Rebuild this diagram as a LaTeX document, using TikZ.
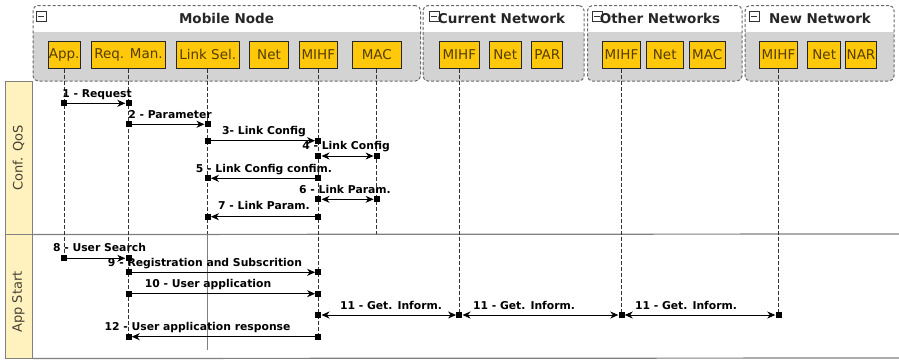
\documentclass[tikz,border=0pt]{standalone}
\usepackage{fontspec}
\setmainfont{DejaVu Sans}
\usetikzlibrary{arrows.meta}
\definecolor{boxy}{RGB}{255,200,10}
\definecolor{boxtxt}{RGB}{85,62,0}
\definecolor{lanehd}{RGB}{255,242,190}
\definecolor{lanetxt}{RGB}{70,65,50}
\definecolor{grpbody}{RGB}{211,211,211}
\definecolor{grpline}{RGB}{105,105,105}
\definecolor{laneline}{RGB}{128,128,128}
\begin{document}
\begin{tikzpicture}[x=1pt,y=-1pt,
  comp/.style={draw=black!85, fill=boxy, line width=0.8pt, minimum height=27.5pt, inner sep=0pt, text=boxtxt, font=\fontsize{13.5}{15}\selectfont},
  grpttl/.style={anchor=base, inner sep=0pt, font=\bfseries\fontsize{13.5}{15}\selectfont, text=black!85},
  icon/.style={draw=black!80, fill=white, minimum size=10pt, inner sep=0pt, line width=0.6pt,
    path picture={\draw[line width=0.7pt] ([xshift=2pt]path picture bounding box.west) -- ([xshift=-2pt]path picture bounding box.east);}},
  grpborder/.style={draw=grpline, dashed, dash pattern=on 3pt off 2pt, line width=1pt, rounded corners=5pt},
  life/.style={draw=black!80, line width=0.8pt, dash pattern=on 4pt off 2pt},
  mk/.style={fill=black, minimum size=6pt, inner sep=0pt},
  msg/.style={draw=black, line width=0.9pt, -{Stealth[length=8pt,width=7pt,inset=2.5pt]}},
  dmsg/.style={draw=black, line width=0.9pt, {Stealth[length=8pt,width=7pt,inset=2.5pt]}-{Stealth[length=8pt,width=7pt,inset=2.5pt]}},
  lbl/.style={anchor=base, inner sep=0pt, font=\bfseries\fontsize{10.8}{12}\selectfont},
  lanehead/.style={draw=laneline, fill=lanehd, line width=1pt},
  lanettl/.style={rotate=90, inner sep=0pt, text=lanetxt, font=\fontsize{13}{15}\selectfont},
  lanesep/.style={draw=laneline, line width=1.2pt}]

\useasboundingbox (0,0) rectangle (899,360);
\fill[white] (0,0) rectangle (899,360);

% ---------- lanes ----------
\node[lanehead, minimum width=27pt, minimum height=152.5pt, inner sep=0pt] (laneA) at (18.5,157.75) {};
\node[lanehead, minimum width=27pt, minimum height=124pt, inner sep=0pt] (laneB) at (18.5,296) {};
\node[lanettl] (laneAt) at (18.5,158) {Conf. QoS};
\node[lanettl] (laneBt) at (18.5,302) {App Start};
\coordinate (sepR) at (899,234);
\coordinate (botR) at (899,358);
\draw[lanesep] (laneA.south east) -- (sepR);
\draw[lanesep] (laneB.south east) -- (botR);

% ---------- groups ----------
\foreach \xa/\xb in {33/420.5, 423/584, 587.5/742, 745/894}{
  \fill[white, rounded corners=5pt] (\xa,5.5) rectangle (\xb,81);
  \fill[grpbody, rounded corners=5pt] (\xa,32) rectangle (\xb,81);
  \fill[grpbody] (\xa,32) rectangle (\xb,40);
}
\node[grpborder, minimum width=387.5pt, minimum height=75.5pt, inner sep=0pt] (gMN) at (226.75,43.25) {};
\node[grpborder, minimum width=161pt, minimum height=75.5pt, inner sep=0pt] (gCN) at (503.5,43.25) {};
\node[grpborder, minimum width=154.5pt, minimum height=75.5pt, inner sep=0pt] (gON) at (664.75,43.25) {};
\node[grpborder, minimum width=149pt, minimum height=75.5pt, inner sep=0pt] (gNN) at (819.5,43.25) {};

\node[icon] (iMN) at (41.3,16.7) {};
\node[icon] (iCN) at (433.8,16.7) {};
\node[icon] (iON) at (597.2,16.7) {};
\node[icon] (iNN) at (754.2,16.7) {};

\node[grpttl] (tMN) at (226.5,23.3) {Mobile Node};
\node[grpttl] (tCN) at (501.5,23.3) {Current Network};
\node[grpttl] (tON) at (660,23.3) {Other Networks};
\node[grpttl] (tNN) at (820,23.3) {New Network};

% ---------- components ----------
\node[comp, minimum width=31.7pt] (app) at (64.2,54.8) {App.};
\node[comp, minimum width=74.4pt] (req) at (128.5,54.8) {Req. Man.};
\node[comp, minimum width=63.3pt] (lsel) at (207.7,54.8) {Link Sel.};
\node[comp, minimum width=39.4pt] (netM) at (269,54.8) {Net};
\node[comp, minimum width=38.7pt] (mihfM) at (318.3,54.8) {MIHF};
\node[comp, minimum width=49pt] (macM) at (376.8,54.8) {MAC};

\node[comp, minimum width=40pt] (mihfC) at (459.3,54.8) {MIHF};
\node[comp, minimum width=31.7pt] (netC) at (505.2,54.8) {Net};
\node[comp, minimum width=31pt] (par) at (547.2,54.8) {PAR};

\node[comp, minimum width=38.4pt] (mihfO) at (621.5,54.8) {MIHF};
\node[comp, minimum width=37.3pt] (netO) at (664.7,54.8) {Net};
\node[comp, minimum width=35.7pt] (macO) at (707.2,54.8) {MAC};

\node[comp, minimum width=38.4pt] (mihfN) at (778.5,54.8) {MIHF};
\node[comp, minimum width=33pt] (netN) at (824.2,54.8) {Net};
\node[comp, minimum width=31.4pt] (nar) at (861,54.8) {NAR};

% ---------- lifelines ----------
\coordinate (appE) at (64.2,258.3);
\coordinate (reqE) at (128.5,337);
\coordinate (lselM) at (207.7,234);
\coordinate (lselE) at (207.7,350);
\coordinate (mihfME) at (318.3,337);
\coordinate (macME) at (376.8,234);
\coordinate (mihfCE) at (459.3,315);
\coordinate (mihfOE) at (621.5,315);
\coordinate (mihfNE) at (778.5,315);

\draw[life] (app.south) -- (appE);
\draw[life] (req.south) -- (reqE);
\draw[life] (lsel.south) -- (lselM);
\draw[draw=laneline, line width=1pt] (lselM) -- (lselE);
\draw[life] (mihfM.south) -- (mihfME);
\draw[life] (macM.south) -- (macME);
\draw[life] (mihfC.south) -- (mihfCE);
\draw[life] (mihfO.south) -- (mihfOE);
\draw[life] (mihfN.south) -- (mihfNE);

% ---------- markers ----------
\node[mk] (m1a) at (64.2,103.3) {};   \node[mk] (m1b) at (128.5,103.3) {};
\node[mk] (m2a) at (128.5,124.3) {};  \node[mk] (m2b) at (207.7,124.3) {};
\node[mk] (m3a) at (207.7,140.7) {};  \node[mk] (m3b) at (318.3,140.7) {};
\node[mk] (m4a) at (318.3,156) {};    \node[mk] (m4b) at (376.8,156) {};
\node[mk] (m5a) at (318.3,178.3) {};  \node[mk] (m5b) at (207.7,178.3) {};
\node[mk] (m6a) at (318.3,199.3) {};  \node[mk] (m6b) at (376.8,199.3) {};
\node[mk] (m7a) at (318.3,216.7) {};  \node[mk] (m7b) at (207.7,216.7) {};
\node[mk] (m8a) at (64.2,258.3) {};   \node[mk] (m8b) at (128.5,258.3) {};
\node[mk] (m9a) at (128.5,272.3) {};  \node[mk] (m9b) at (318.3,272.3) {};
\node[mk] (m10a) at (128.5,293.7) {}; \node[mk] (m10b) at (318.3,293.7) {};
\node[mk] (m11a) at (318.3,315) {};   \node[mk] (m11b) at (459.3,315) {};
\node[mk] (m11c) at (621.5,315) {};   \node[mk] (m11d) at (778.5,315) {};
\node[mk] (m12a) at (318.3,336.7) {}; \node[mk] (m12b) at (128.5,336.7) {};

% ---------- messages ----------
\draw[msg] (m1a) -- (m1b);
\draw[msg] (m2a) -- (m2b);
\draw[msg] (m3a) -- (m3b);
\draw[dmsg] (m4a) -- (m4b);
\draw[msg] (m5a) -- (m5b);
\draw[dmsg] (m6a) -- (m6b);
\draw[msg] (m7a) -- (m7b);
\draw[msg] (m8a) -- (m8b);
\draw[msg] (m9a) -- (m9b);
\draw[msg] (m10a) -- (m10b);
\draw[dmsg] (m11a) -- (m11b);
\draw[dmsg] (m11b) -- (m11c);
\draw[dmsg] (m11c) -- (m11d);
\draw[msg] (m12a) -- (m12b);

% ---------- labels ----------
\node[lbl] (l1) at (97,97.3) {1 - Request};
\node[lbl] (l2) at (170,118.2) {2 - Parameter};
\node[lbl] (l3) at (264,134.6) {3- Link Config};
\node[lbl] (l4) at (346,149.6) {4 - Link Config};
\node[lbl] (l5) at (264,172.2) {5 - Link Config confim.};
\node[lbl] (l6) at (345,193.9) {6 - Link Param.};
\node[lbl] (l7) at (264,209.9) {7 - Link Param.};
\node[lbl] (l8) at (99.5,251.2) {8 - User Search};
\node[lbl] (l9) at (205,266.4) {9 - Registration and Subscrition};
\node[lbl] (l10) at (208,287.4) {10 - User application};
\node[lbl] (l11a) at (391,309.4) {11 - Get. Inform.};
\node[lbl] (l11b) at (524,309.4) {11 - Get. Inform.};
\node[lbl] (l11c) at (686,309.4) {11 - Get. Inform.};
\node[lbl] (l12) at (197.5,330.6) {12 - User application response};
\end{tikzpicture}
\end{document}
